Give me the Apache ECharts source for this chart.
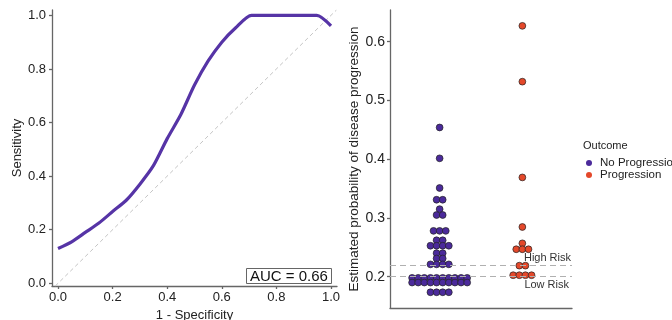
<!DOCTYPE html>
<html>
<head>
<meta charset="utf-8">
<script src="https://cdn.jsdelivr.net/npm/echarts@6/dist/echarts.min.js"></script>
<style>
  html, body { margin: 0; padding: 0; background: #fff; }
  #chart { width: 672px; height: 320px; }
</style>
</head>
<body>
<div id="chart"></div>
<script>
// ROC curve (1 - specificity vs sensitivity)
const rocFpr = [0, 0.05, 0.1, 0.15, 0.2, 0.25, 0.3, 0.35, 0.4, 0.45, 0.5, 0.55, 0.6, 0.65, 0.709, 0.8, 0.9, 0.948, 1.0];
const rocTpr = [0.13, 0.155, 0.19, 0.225, 0.268, 0.31, 0.37, 0.44, 0.54, 0.63, 0.74, 0.83, 0.9, 0.953, 1.0, 1.0, 1.0, 1.0, 0.961];
const rocTicks = [0, 0.2, 0.4, 0.6, 0.8, 1.0];
const aucText = 'AUC = 0.66';

// dotplot bins: value of each stacked row and how many dots in it
const noProgValues = [0.454, 0.4015, 0.351, 0.331, 0.315, 0.305, 0.278, 0.262, 0.2527, 0.24, 0.231, 0.221, 0.198, 0.19, 0.1735];
const noProgCounts = [1, 1, 1, 2, 1, 2, 3, 2, 4, 2, 2, 4, 10, 10, 4];
const progValues = [0.627, 0.532, 0.369, 0.2846, 0.2568, 0.2467, 0.2188, 0.2025];
const progCounts = [1, 1, 1, 1, 1, 3, 2, 4];
const probTicks = [0.2, 0.3, 0.4, 0.5, 0.6];
const thresholds = [
  { name: 'High Risk', value: 0.223 },
  { name: 'Low Risk', value: 0.198 },
];
const outcomeNames = ['No Progression', 'Progression'];

const FONT = 'Liberation Sans, Arial, sans-serif';
const PURPLE = '#4b2a9b';
const RED = '#e4482a';

// stack dots of the same bin side by side, centred on the group position
function stackDots(center, values, counts, step) {
  let pts = [];
  values.forEach((v, i) => {
    let n = counts[i];
    for (let k = 0; k < n; k++) {
      pts.push([center + (k - (n - 1) / 2) * step, v]);
    }
  });
  return pts;
}

const dotStep = 0.074;
let noProgDots = stackDots(1, noProgValues, noProgCounts, dotStep);
let progDots = stackDots(2, progValues, progCounts, dotStep);

let axisLineStyle = { color: '#666', width: 1.3 };
let tickLabel = { color: '#222', fontSize: 13, fontFamily: FONT, margin: 6 };

let chart = echarts.init(document.getElementById('chart'));

let option = {
  animation: false,
  textStyle: { fontFamily: FONT },
  title: {
    text: aucText,
    left: 246,
    top: 268,
    padding: [1, 4, 0, 4],
    borderColor: '#666',
    borderWidth: 1,
    backgroundColor: '#fff',
    textStyle: { fontSize: 15, fontWeight: 'normal', color: '#111', fontFamily: FONT },
    z: 10,
  },
  legend: {
    data: outcomeNames,
    orient: 'vertical',
    left: 586,
    top: 157,
    padding: 0,
    itemWidth: 6,
    itemHeight: 6,
    itemGap: 0,
    icon: 'circle',
    itemStyle: { borderWidth: 0 },
    textStyle: { fontSize: 11.5, color: '#222', fontFamily: FONT, lineHeight: 11, padding: [0, 0, 0, 3] },
  },
  graphic: [
    {
      type: 'text',
      left: 583,
      top: 140,
      style: { text: 'Outcome', fontSize: 11, fill: '#222', fontFamily: FONT },
    },
  ],
  grid: [
    { left: 52, top: 10, width: 285, height: 276, outerBoundsMode: 'none' },
    { left: 390, top: 10, width: 182, height: 298, outerBoundsMode: 'none' },
  ],
  xAxis: [
    {
      gridIndex: 0,
      type: 'value',
      min: -0.022,
      max: 1.022,
      name: '1 - Specificity',
      nameLocation: 'middle',
      nameGap: 21,
      nameTextStyle: { fontSize: 13, color: '#222', fontFamily: FONT },
      axisLine: { onZero: false, lineStyle: axisLineStyle },
      axisTick: { show: true, length: 3, customValues: rocTicks, lineStyle: axisLineStyle },
      axisLabel: Object.assign({}, tickLabel, {
        margin: 5,
        customValues: rocTicks,
        formatter: (v) => v.toFixed(1),
      }),
      splitLine: { show: false },
    },
    {
      gridIndex: 1,
      type: 'value',
      min: 0.4,
      max: 2.6,
      axisLine: { onZero: false, lineStyle: axisLineStyle },
      axisTick: { show: false },
      axisLabel: { show: false },
      splitLine: { show: false },
    },
  ],
  yAxis: [
    {
      gridIndex: 0,
      type: 'value',
      min: -0.01,
      max: 1.02,
      name: 'Sensitivity',
      nameLocation: 'middle',
      nameGap: 26,
      nameTextStyle: { fontSize: 13, color: '#222', fontFamily: FONT },
      axisLine: { show: true, onZero: false, lineStyle: axisLineStyle },
      axisTick: { show: true, length: 3, customValues: rocTicks, lineStyle: axisLineStyle },
      axisLabel: Object.assign({}, tickLabel, {
        customValues: rocTicks,
        formatter: (v) => v.toFixed(1),
      }),
      splitLine: { show: false },
    },
    {
      gridIndex: 1,
      type: 'value',
      min: 0.1467,
      max: 0.654,
      name: 'Estimated probability of disease progression',
      nameLocation: 'middle',
      nameGap: 24,
      nameTextStyle: { fontSize: 13.5, color: '#222', fontFamily: FONT },
      axisLine: { show: true, onZero: false, lineStyle: axisLineStyle },
      axisTick: { show: true, length: 3, customValues: probTicks, lineStyle: axisLineStyle },
      axisLabel: Object.assign({}, tickLabel, {
        fontSize: 14,
        margin: 5,
        customValues: probTicks,
        formatter: (v) => v.toFixed(1),
      }),
      splitLine: { show: false },
    },
  ],
  series: [
    {
      name: 'diagonal',
      type: 'line',
      xAxisIndex: 0,
      yAxisIndex: 0,
      data: [[-0.01, -0.01], [1.02, 1.02]],
      showSymbol: false,
      silent: true,
      lineStyle: { color: '#c4c4c4', width: 1, type: [4, 3] },
    },
    {
      name: 'ROC',
      type: 'line',
      xAxisIndex: 0,
      yAxisIndex: 0,
      data: rocFpr.map((x, i) => [x, rocTpr[i]]),
      smooth: 0.25,
      showSymbol: false,
      lineStyle: { color: '#5634a6', width: 3.2 },
      z: 3,
    },
    {
      name: outcomeNames[0],
      type: 'scatter',
      xAxisIndex: 1,
      yAxisIndex: 1,
      data: noProgDots,
      symbolSize: 6.8,
      itemStyle: { color: PURPLE, borderColor: '#222', borderWidth: 0.7, opacity: 1 },
      markLine: {
        silent: true,
        symbol: 'none',
        lineStyle: { color: '#b0b0b0', width: 1.2, type: [6, 4] },
        data: thresholds.map((t, i) => ({
          yAxis: t.value,
          label: {
            show: true,
            formatter: t.name,
            position: i === 0 ? 'insideEndTop' : 'insideEndBottom',
            distance: i === 0 ? 1 : 3,
            fontSize: 11,
            color: '#333',
            fontFamily: FONT,
          },
        })),
      },
      z: 2,
    },
    {
      name: outcomeNames[1],
      type: 'scatter',
      xAxisIndex: 1,
      yAxisIndex: 1,
      data: progDots,
      symbolSize: 6.8,
      itemStyle: { color: RED, borderColor: '#222', borderWidth: 0.7, opacity: 1 },
      z: 2,
    },
  ],
};

chart.setOption(option);
</script>
</body>
</html>
